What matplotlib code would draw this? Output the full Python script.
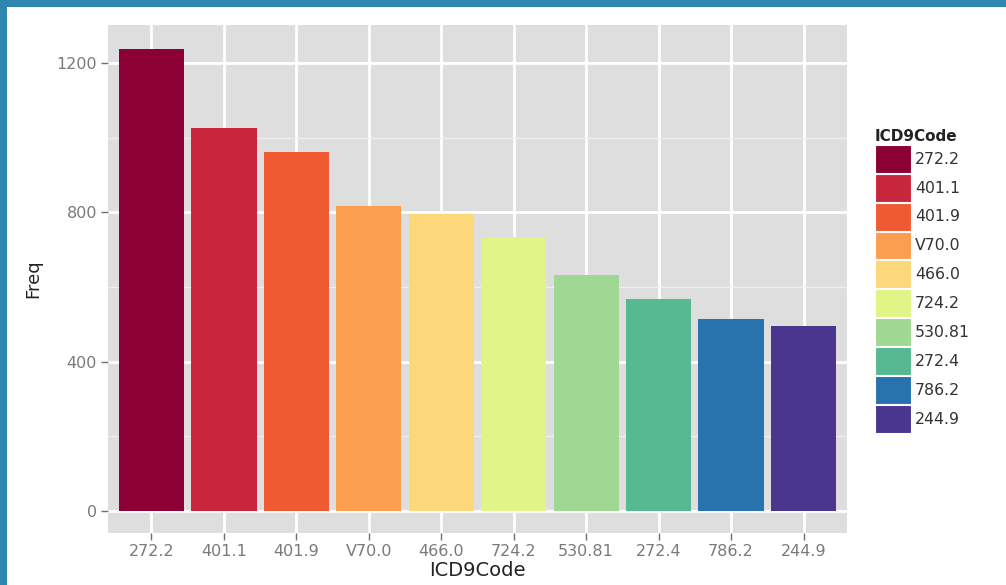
"""
ICD9 code frequency bar chart in the old ggplot2 grey style.
"""

import matplotlib
matplotlib.use("Agg")
import matplotlib.pyplot as plt
from matplotlib.patches import Patch, Rectangle

plt.rcParams['font.family'] = ['DejaVu Sans']

codes = ['272.2', '401.1', '401.9', 'V70.0', '466.0',
         '724.2', '530.81', '272.4', '786.2', '244.9']
freq = [1237, 1026, 962, 817, 795, 735, 633, 567, 514, 496]
colours = ['#8c0033', '#c8263c', '#f05a33', '#fb9e50', '#fcd87a',
           '#e0f587', '#9fd892', '#56b992', '#2873ae', '#4a358f']
y_ticks = [0, 400, 800, 1200]
y_minor = [200, 600, 1000]

fig = plt.figure(figsize=(10.06, 5.85), dpi=100)
fig.patch.set_facecolor('white')

# panel placement in pixels: left 108, right 847, top 25, bottom 533
W, H = 1006, 585
ax = fig.add_axes([108 / W, (H - 533) / H, (847 - 108) / W, (533 - 25) / H])
ax.set_facecolor('#dedede')

x = list(range(len(codes)))
ax.bar(x, freq, width=0.9, color=colours, zorder=3)

ax.set_xlim(-0.6, len(codes) - 0.4)
ax.set_ylim(-59, 1302)
ax.set_xticks(x)
ax.set_xticklabels(codes)
ax.set_yticks(y_ticks)
ax.set_yticks(y_minor, minor=True)

ax.grid(True, which='major', color='white', linewidth=2.0, zorder=1)
ax.grid(True, which='minor', axis='y', color='#efefef', linewidth=0.9, zorder=1)
for s in ax.spines.values():
    s.set_visible(False)

ax.tick_params(axis='both', which='major', length=5, width=1, color='#707070',
               labelcolor='#7a7a7a', labelsize=11.5, pad=3)
ax.tick_params(axis='y', which='minor', length=0)

ax.set_xlabel('ICD9Code', fontsize=14, color='#222222', labelpad=1)
ax.set_ylabel('Freq', fontsize=13, color='#222222', labelpad=10)

# legend
handles = [Patch(facecolor=c, edgecolor='white', linewidth=0.8) for c in colours]
leg = fig.legend(handles, codes, loc='upper left',
                 bbox_to_anchor=(875 / W, 1 - 129 / H), frameon=False,
                 title='ICD9Code', fontsize=11.3, handlelength=2.3,
                 handleheight=2.36, labelspacing=0.06, handletextpad=0.25,
                 borderaxespad=0, borderpad=0, alignment='left')
leg.get_title().set_fontweight('bold')
leg.get_title().set_fontsize(11)
leg.get_title().set_color('#222222')
for t in leg.get_texts():
    t.set_color('#333333')

# blue frame on top and left edges
blue = '#2e86b1'
fig.add_artist(Rectangle((0, 1 - 7 / H), 1, 7 / H, transform=fig.transFigure,
                         facecolor=blue, edgecolor='none'))
fig.add_artist(Rectangle((0, 0), 7 / W, 1, transform=fig.transFigure,
                         facecolor=blue, edgecolor='none'))

fig.savefig('out.png', dpi=100)
